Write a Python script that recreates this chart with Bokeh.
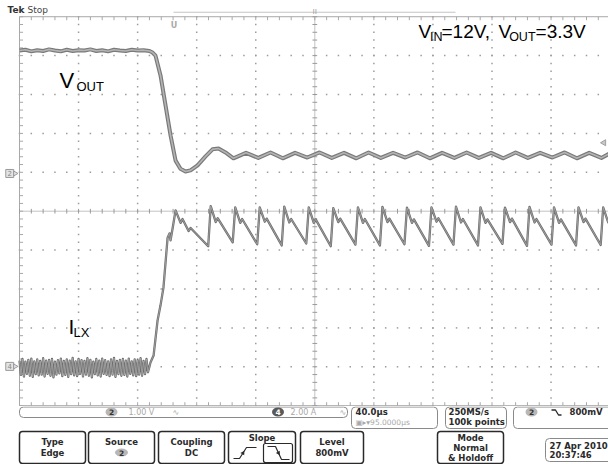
import numpy as np
from bokeh.plotting import figure
from bokeh.layouts import column
from bokeh.models import Range1d
from bokeh.core.properties import value
from bokeh.embed import file_html
from bokeh.resources import INLINE

# ---------------- scope settings ----------------
TIME_PER_DIV_US = 40.0
N_HDIV = 10
N_VDIV = 10
T_END = TIME_PER_DIV_US * N_HDIV

# ---------------- V_OUT (CH2), time in us, level in divisions from centre ----------------
vout_flat_t = [0, 4, 8, 12, 16, 20, 24, 28, 32, 36, 40, 44, 48, 52, 56, 60, 64, 68, 72, 76, 80, 84, 88]
vout_flat_y = [4.13, 4.15, 4.11, 4.14, 4.12, 4.16, 4.13, 4.11, 4.15, 4.12, 4.14, 4.13, 4.16, 4.12,
               4.14, 4.11, 4.15, 4.13, 4.12, 4.15, 4.13, 4.14, 4.12]
vout_step_t = [90.1, 92.1, 95.5, 98.9, 102.3, 105.7, 109.0, 112.4, 115.8, 120.6, 126.0, 130.7, 134.8,
               139.5, 144.9,
               153.4, 161.7, 170.0, 178.3, 186.6, 194.9, 203.2, 211.5, 219.8, 228.1, 236.4, 244.7,
               253.0, 261.3, 269.6, 277.9, 286.2, 294.5, 302.8, 311.1, 319.4, 327.7, 336.0, 344.3,
               352.6, 360.9, 369.2, 377.5, 385.8, 394.1, 400.0]
vout_step_y = [4.08, 4.00, 3.49, 2.72, 1.95, 1.30, 1.09, 1.02, 1.05, 1.18, 1.41, 1.59, 1.61,
               1.51, 1.36,
               1.50, 1.37, 1.51, 1.36, 1.50, 1.38, 1.51, 1.37, 1.50, 1.36, 1.51, 1.37,
               1.50, 1.38, 1.51, 1.36, 1.50, 1.37, 1.51, 1.37, 1.50, 1.36, 1.51, 1.37,
               1.50, 1.38, 1.51, 1.36, 1.50, 1.37, 1.49]

# ---------------- I_LX (CH4) ----------------
ilx_noise_t = [0, 1, 2, 3, 4, 5, 6, 7, 8, 9, 10, 11, 12, 13, 14, 15, 16, 17, 18, 19, 20, 21, 22,
               23, 24, 25, 26, 27, 28, 29, 30, 31, 32, 33, 34, 35, 36, 37, 38, 39, 40, 41, 42, 43,
               44, 45, 46, 47, 48, 49, 50, 51, 52, 53, 54, 55, 56, 57, 58, 59, 60, 61, 62, 63, 64,
               65, 66, 67, 68, 69, 70, 71, 72, 73, 74, 75, 76, 77, 78, 79, 80, 81, 82, 83, 84, 85,
               86, 87]
ilx_noise_y = [-3.84, -4.21, -3.80, -4.25, -3.87, -4.18, -3.82, -4.23,
               -3.79, -4.26, -3.86, -4.19, -3.81, -4.22, -3.85, -4.20,
               -3.78, -4.25, -3.84, -4.18, -3.82, -4.23, -3.80, -4.27,
               -3.87, -4.20, -3.83, -4.17, -3.79, -4.24, -3.85, -4.21,
               -3.81, -4.26, -3.84, -4.19, -3.77, -4.22, -3.86, -4.24,
               -3.80, -4.18, -3.83, -4.25, -3.85, -4.20, -3.78, -4.23,
               -3.82, -4.27, -3.87, -4.19, -3.80, -4.22, -3.84, -4.25,
               -3.79, -4.18, -3.83, -4.21, -3.86, -4.24, -3.81, -4.20,
               -3.77, -4.26, -3.85, -4.19, -3.82, -4.23, -3.80, -4.21,
               -3.84, -4.25, -3.79, -4.18, -3.86, -4.22, -3.81, -4.24,
               -3.83, -4.20, -3.78, -4.23, -3.85, -4.19, -3.80, -4.14]
ilx_rise_t = [88.7, 90.8, 93.5, 95.5, 97.5, 98.9, 100.3, 101.6, 102.3, 103.7, 105.7]
ilx_rise_y = [-3.89, -3.71, -2.81, -2.42, -1.96, -1.32, -0.68, -0.57, -0.75, -0.44, 0.02]
ilx_saw_t = [109.1, 110.4, 114.5, 115.9, 127.8,
             129.5, 132.9, 134.2, 144.4,
             146.1, 149.5, 150.8, 161.0,
             162.7, 166.1, 167.4, 177.6,
             179.3, 182.7, 184.0, 194.2,
             195.9, 199.3, 200.6, 210.8,
             212.5, 215.9, 217.2, 227.5,
             229.2, 232.6, 233.9, 244.1,
             245.8, 249.2, 250.5, 260.7,
             262.4, 265.8, 267.1, 277.3,
             279.0, 282.4, 283.7, 293.9,
             295.6, 299.0, 300.3, 310.5,
             312.2, 315.6, 316.9, 327.1,
             328.8, 332.2, 333.5, 343.7,
             345.4, 348.8, 350.1, 360.3,
             362.0, 365.4, 366.7, 376.9,
             378.6, 382.0, 383.3, 393.6,
             395.3, 398.7, 400.0]
ilx_saw_y = [-0.30, -0.20, -0.51, -0.43, -0.90,
             0.13, -0.28, -0.18, -0.80,
             0.10, -0.30, -0.20, -0.85,
             0.10, -0.27, -0.19, -0.88,
             0.12, -0.29, -0.20, -0.83,
             0.10, -0.30, -0.21, -0.90,
             0.08, -0.28, -0.19, -0.86,
             0.10, -0.30, -0.20, -0.88,
             0.11, -0.28, -0.19, -0.85,
             0.09, -0.30, -0.21, -0.89,
             0.10, -0.27, -0.18, -0.86,
             0.12, -0.29, -0.20, -0.88,
             0.10, -0.30, -0.21, -0.84,
             0.09, -0.28, -0.19, -0.89,
             0.11, -0.29, -0.20, -0.86,
             0.10, -0.30, -0.21, -0.88,
             0.10, -0.28, -0.19, -0.87,
             0.10, -0.29, -0.20]

CH2_GROUND = 0.97
CH4_GROUND = -3.99
TRIG_LEVEL = 1.76
TRIG_POS_US = 104.3

vout_t = vout_flat_t + vout_step_t
vout_y = vout_flat_y + vout_step_y
ilx_t = ilx_noise_t + ilx_rise_t + ilx_saw_t
ilx_y = ilx_noise_y + ilx_rise_y + ilx_saw_y

# ---------------- scope screen ----------------
p = figure(width=608, height=406, x_range=Range1d(-12.87, 398.9), y_range=Range1d(-5.021, 5.417),
           toolbar_location=None, output_backend="svg", min_border=0,
           x_axis_type=None, y_axis_type=None)
p.outline_line_color = None
p.background_fill_color = "white"
p.border_fill_color = "white"

half = N_VDIV / 2
minor_t = np.arange(0, T_END + 0.01, TIME_PER_DIV_US / 5)
minor_y = np.arange(-half, half + 0.001, 0.2)
major_t = [k * TIME_PER_DIV_US for k in range(1, N_HDIV) if k != N_HDIV // 2]
major_y = [k for k in range(-int(half) + 1, int(half)) if k != 0]

dx, dy = [], []
for t in major_t:
    dx += [t] * len(minor_y)
    dy += list(minor_y)
for yy in major_y:
    dx += list(minor_t)
    dy += [yy] * len(minor_t)
p.scatter(dx, dy, marker="square", size=1.5, fill_color="#9c9c9c", line_color=None)

tc = T_END / 2
gcol = "#c2c2c2"
# centre lines
p.segment(x0=[0, tc], y0=[0, -half], x1=[T_END, tc], y1=[0, half], line_color=gcol, line_width=1)
# borders
p.segment(x0=[0, 0, 0], y0=[-half, half, -half], x1=[0, T_END, T_END], y1=[half, half, -half],
          line_color="#a8a8a8", line_width=1)
# centre ticks
p.segment(x0=list(minor_t), y0=[-0.06] * len(minor_t), x1=list(minor_t), y1=[0.06] * len(minor_t),
          line_color="#9a9a9a", line_width=1)
p.segment(x0=[tc - 1.6] * len(minor_y), y0=list(minor_y), x1=[tc + 1.6] * len(minor_y), y1=list(minor_y),
          line_color="#9a9a9a", line_width=1)
# border ticks
p.segment(x0=[0] * len(minor_y), y0=list(minor_y), x1=[2.4] * len(minor_y), y1=list(minor_y),
          line_color="#a8a8a8", line_width=1)
p.segment(x0=list(minor_t), y0=[half] * len(minor_t), x1=list(minor_t), y1=[half - 0.09] * len(minor_t),
          line_color="#a8a8a8", line_width=1)
p.segment(x0=list(minor_t), y0=[-half] * len(minor_t), x1=list(minor_t), y1=[-half + 0.09] * len(minor_t),
          line_color="#a8a8a8", line_width=1)

# traces
p.line(vout_t, vout_y, line_color="#7a7a7a", line_width=4, line_join="round")
p.line(vout_t, vout_y, line_color="#b4b4b4", line_width=1.6, line_join="round")
p.line(ilx_t, ilx_y, line_color="#6e6e6e", line_width=2.3, line_join="round")
p.line(ilx_t, ilx_y, line_color="#a8a8a8", line_width=0.8, line_join="round")

# record bar / trigger indicators
p.segment(x0=[TRIG_POS_US], y0=[5.115], x1=[295.3], y1=[5.115], line_color="#c4c4c4", line_width=1)
p.text(x=[tc], y=[5.14], text=["ıı"], text_align="center", text_baseline="middle",
       text_font=value("DejaVu Sans"), text_font_size="8px", text_color="#a0a0a0")
p.text(x=[TRIG_POS_US + 0.4], y=[4.78], text=["U"], text_align="center", text_baseline="middle",
       text_font=value("DejaVu Sans"), text_font_style="bold", text_font_size="8px", text_color="#a8a8a8")
p.scatter([395.8], [TRIG_LEVEL], marker="triangle", angle=np.pi / 2, size=6,
          fill_color="#c8c8c8", line_color="#a0a0a0")

# channel ground markers
for gy, lab in [(CH2_GROUND, "2"), (CH4_GROUND, "4")]:
    p.scatter([-6.6], [gy], marker="square", size=8, fill_color="#e4e4e4", line_color="#9a9a9a")
    p.scatter([-3.0], [gy], marker="triangle", angle=-np.pi / 2, size=5, fill_color="#e4e4e4",
              line_color="#9a9a9a")
    p.text(x=[-6.6], y=[gy], text=[lab], text_align="center", text_baseline="middle",
           text_font=value("DejaVu Sans"), text_font_size="7px", text_color="#888888")

# Tek Stop
p.text(x=[-8.1], y=[5.045], text=["Tek"], text_font=value("DejaVu Sans"), text_font_style="bold",
       text_font_size="9px", text_color="#333333")
p.text(x=[5.4], y=[5.045], text=["Stop"], text_font=value("DejaVu Sans"),
       text_font_size="9px", text_color="#444444")

lf = value("Liberation Sans")
# V_OUT label
p.text(x=[27.1], y=[3.05], text=["V"], text_font=lf, text_font_size="22px", text_color="black")
p.text(x=[38.6], y=[3.02], text=["OUT"], text_font=lf, text_font_size="13px", text_color="black")
# I_LX label
p.text(x=[33.2], y=[-3.25], text=["I"], text_font=lf, text_font_size="21px", text_color="black")
p.text(x=[36.6], y=[-3.30], text=["LX"], text_font=lf, text_font_size="13px", text_color="black")
# V_IN, V_OUT annotation
p.text(x=[270.2, 285.8, 324.4, 349.5], y=[4.35] * 4, text=["V", "=12V,", "V", "=3.3V"],
       text_font=lf, text_font_size="19px", text_color="black")
p.text(x=[278.0, 331.6], y=[4.31, 4.31], text=["IN", "OUT"],
       text_font=lf, text_font_size="12.5px", text_color="black")

# ---------------- bottom status / menu panel ----------------
panel = figure(width=608, height=58, x_range=Range1d(0, 608), y_range=Range1d(0, 58),
               toolbar_location=None, output_backend="svg", min_border=0,
               x_axis_type=None, y_axis_type=None)
panel.outline_line_color = None
panel.background_fill_color = "white"
panel.border_fill_color = "white"

uf = value("DejaVu Sans")

# status readouts (light outline)
panel.quad(left=[19, 351, 445, 513, 545], right=[347, 437, 506, 625, 625],
           top=[57.5, 57.5, 57.5, 57.5, 26], bottom=[47, 36, 36, 36, 3],
           fill_color="white", line_color="#8a8a8a", line_width=1, border_radius=4)
# menu buttons (dark outline)
panel.quad(left=[19, 88, 158, 228, 300, 437], right=[85, 154, 224, 295, 363, 503],
           top=[33] * 6, bottom=[1] * 6, fill_color="white", line_color="#2a2a2a", line_width=1.5,
           border_radius=3)
# slope icons
panel.quad(left=[263], right=[292], top=[21], bottom=[2], fill_color="white", line_color="#2a2a2a",
           line_width=1.2, border_radius=2)
panel.line([233, 239, 246, 256], [6, 6, 17, 17], line_color="#2a2a2a", line_width=1.2)
panel.scatter([242.5], [11.5], marker="triangle", angle=-0.57, size=4.5, fill_color="#2a2a2a",
              line_color=None)
panel.line([267, 275, 281, 289], [18, 18, 5, 5], line_color="#2a2a2a", line_width=1.2)
panel.scatter([278], [11.5], marker="triangle", angle=np.pi + 0.57, size=4.5, fill_color="#2a2a2a",
              line_color=None)
# trigger slope glyph in readout
panel.line([551, 555, 558, 561], [54.5, 54.5, 49.5, 49.5], line_color="#2a2a2a", line_width=1.3)

# circled channel numbers
panel.ellipse(x=[111, 277.5, 121, 531], y=[52.5, 52.5, 12, 52.5], width=[12, 12, 13, 12],
              height=[9, 9, 8, 9], fill_color=["#b8b8b8", "#5a5a5a", "#b8b8b8", "#b8b8b8"],
              line_color=None)
panel.text(x=[111, 121, 531], y=[52.5, 12, 52.5], text=["2", "2", "2"], text_align="center",
           text_baseline="middle", text_font=uf, text_font_style="bold", text_font_size="7.5px",
           text_color="#333333")
panel.text(x=[277.5], y=[52.5], text=["4"], text_align="center", text_baseline="middle", text_font=uf,
           text_font_style="bold", text_font_size="7.5px", text_color="white")

# gray readout text
panel.text(x=[128, 172, 290, 339], y=[52.5] * 4, text=["1.00 V", "∿", "2.00 A", "∿"],
           text_baseline="middle", text_font=uf, text_font_size="8px", text_color="#a8a8a8")
panel.text(x=[355], y=[42.5], text=["▣▸▾95.0000µs"], text_baseline="middle", text_font=uf,
           text_font_size="7.5px", text_color="#a8a8a8")
# dark readout text
panel.text(x=[355, 448, 448, 569, 549, 549], y=[52.5, 52.5, 42.5, 52.5, 19, 9.5],
           text=["40.0µs", "250MS/s", "100k points", "800mV", "27 Apr 2010", "20:37:46"],
           text_baseline="middle", text_font=uf, text_font_style="bold", text_font_size="8.5px",
           text_color="#2a2a2a")

# button labels
panel.text(x=[52, 52, 121, 191, 191, 261.5, 331.5, 331.5, 470, 470, 470],
           y=[22.5, 12, 22.5, 22.5, 12, 27, 22.5, 12, 27, 17, 7],
           text=["Type", "Edge", "Source", "Coupling", "DC", "Slope", "Level", "800mV",
                 "Mode", "Normal", "& Holdoff"],
           text_align="center", text_baseline="middle", text_font=uf, text_font_style="bold",
           text_font_size="8.5px", text_color="#2a2a2a")

layout = column(p, panel, spacing=0)
open("out.html", "w").write(file_html(layout, INLINE))
